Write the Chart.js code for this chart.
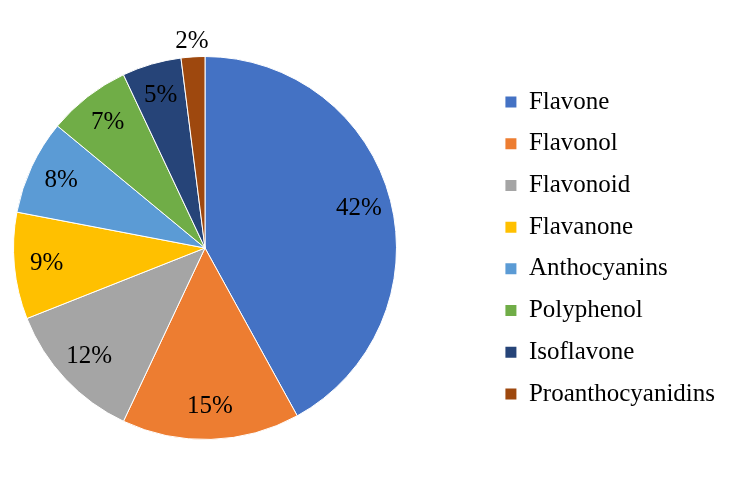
<!DOCTYPE html>
<html>
<head>
<meta charset="utf-8">
<script src="https://cdn.jsdelivr.net/npm/chart.js@4/dist/chart.umd.min.js"></script>
<style>
  html, body { margin: 0; padding: 0; background: #fff; }
  #wrap { width: 738px; height: 496px; }
</style>
</head>
<body>
<div id="wrap"><canvas id="myChart"></canvas></div>
<script>
// flavonoid classes and their share (%)
var categories = ['Flavone', 'Flavonol', 'Flavonoid', 'Flavanone', 'Anthocyanins', 'Polyphenol', 'Isoflavone', 'Proanthocyanidins'];
var shares = [42, 15, 12, 9, 8, 7, 5, 2];
var sliceColors = ['#4472C4', '#ED7D31', '#A5A5A5', '#FFC000', '#5B9BD5', '#70AD47', '#264478', '#9E480E'];

// keep the pie square on the left instead of centred in the whole area
var pieArea = {
  id: 'pieArea',
  afterLayout: function (chart) {
    var a = chart.chartArea;
    a.right = a.left + a.height;
    a.width = a.height;
  }
};

// percent labels, small slices go outside
var pctLabels = {
  id: 'pctLabels',
  afterDatasetsDraw: function (chart) {
    var ctx = chart.ctx;
    var meta = chart.getDatasetMeta(0);
    ctx.save();
    ctx.font = '25px "Liberation Serif"';
    ctx.fillStyle = '#000';
    ctx.textAlign = 'center';
    ctx.textBaseline = 'middle';
    meta.data.forEach(function (arc, i) {
      var p = arc.getProps(['x', 'y', 'startAngle', 'endAngle', 'outerRadius']);
      var mid = (p.startAngle + p.endAngle) / 2;
      var r = shares[i] < 3 ? p.outerRadius * 1.08 : p.outerRadius * 0.83;
      ctx.fillText(shares[i] + '%', p.x + Math.cos(mid) * r, p.y + Math.sin(mid) * r);
    });
    ctx.restore();
  }
};

var ctx = document.getElementById('myChart').getContext('2d');
var chart = new Chart(ctx, {
  type: 'pie',
  data: {
    labels: categories,
    datasets: [{
      data: shares,
      backgroundColor: sliceColors,
      borderColor: '#fff',
      borderWidth: 1
    }]
  },
  options: {
    responsive: true,
    maintainAspectRatio: false,
    animation: false,
    layout: {
      padding: { left: 13, top: 56, bottom: 56, right: 13 }
    },
    plugins: {
      tooltip: { enabled: false },
      legend: {
        position: 'right',
        labels: {
          boxWidth: 11,
          boxHeight: 11,
          padding: 16.7,
          color: '#000',
          font: { family: '"Liberation Serif"', size: 25 },
          generateLabels: function (chart) {
            var items = Chart.controllers.pie.overrides.plugins.legend.labels.generateLabels(chart);
            items.forEach(function (it) { it.lineWidth = 0; });
            return items;
          }
        }
      }
    }
  },
  plugins: [pieArea, pctLabels]
});
</script>
</body>
</html>
